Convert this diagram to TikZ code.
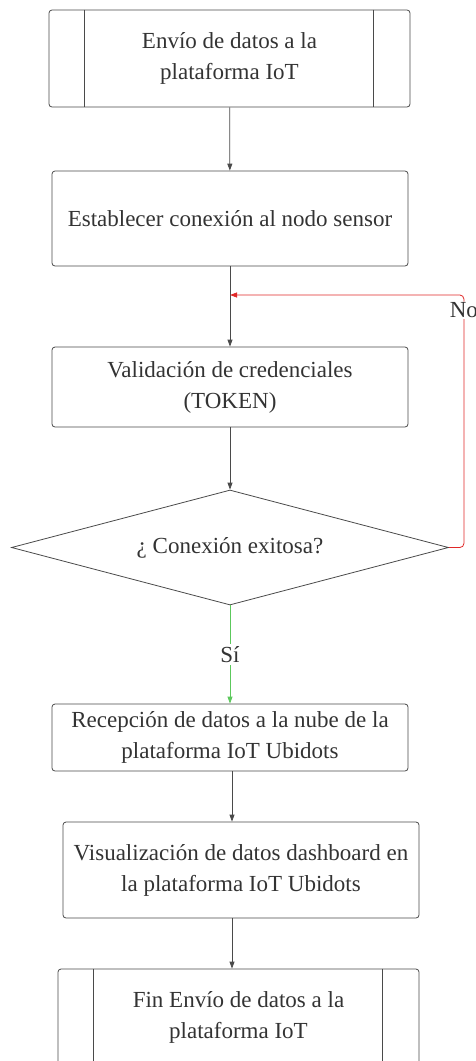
\documentclass[tikz,border=0pt]{standalone}
\usepackage{fontspec}
\setmainfont{Liberation Serif}
\usetikzlibrary{arrows.meta, shapes.geometric, positioning}
\definecolor{linea}{HTML}{4A4A4A}
\definecolor{texto}{HTML}{333333}
\definecolor{rojo}{HTML}{E02828}
\definecolor{verde}{HTML}{5CC85C}

\begin{document}
\begin{tikzpicture}[x=1pt,y=-1pt,>={Triangle[length=7pt,width=5pt]},
      every node/.style={font=\fontsize{23}{31}\selectfont, text=texto},
      caja/.style={draw=linea,line width=0.8pt,rounded corners=3pt,minimum width=356pt,align=center},
      % sub-proceso: caja con dos barras laterales
      subp/.style={caja,minimum width=361pt},
      decision/.style={diamond,aspect=3.8,draw=linea,line width=0.8pt,inner sep=0pt,minimum width=437pt,minimum height=115pt},
      flecha/.style={->,draw=linea,line width=0.8pt}]
      \useasboundingbox (0,0) rectangle (475,1061);
      \clip (0,0) rectangle (475,1061);
      \node[subp, minimum height=97pt]  (inicio) at (229.5,58.5) {Envío de datos a la\\plataforma IoT};
      \node[caja, minimum height=95pt]  (conex)  at (230,218.5) {Establecer conexión al nodo sensor};
      \node[caja, minimum height=80pt]  (valid)  at (230,387) {Validación de credenciales\\(TOKEN)};
      \node[decision]                   (decis)  at (230,547.5) {¿ Conexión exitosa?};
      \node[caja, minimum height=67pt]  (recep)  at (230,737.5) {Recepción de datos a la nube de la\\plataforma IoT Ubidots};
      \node[caja, minimum height=96pt]  (visual) at (241,870) {Visualización de datos dashboard en\\la plataforma IoT Ubidots};
      \node[subp, minimum height=96pt]  (fin)    at (238.5,1017) {Fin Envío de datos a la\\plataforma IoT};
      \foreach \n in {inicio, fin} {
        \draw[linea,line width=0.8pt] ([xshift=36pt]\n.north west) -- ([xshift=36pt]\n.south west);
        \draw[linea,line width=0.8pt] ([xshift=-37pt]\n.north east) -- ([xshift=-37pt]\n.south east);
      }
      \coordinate (ret) at (230,295);
      \coordinate (eje) at (232,0);
      \draw[flecha] (inicio) -- (conex);
      \draw[flecha] (conex) -- (valid);
      \draw[flecha] (valid) -- (decis);
      \draw[->,draw=rojo,line width=0.8pt,rounded corners=4pt] (decis.east) -- ++(15,0)
        |- node[pos=0.47,fill=white,inner sep=1pt] (no) {No} (ret);
      \draw[->,draw=verde,line width=0.8pt] (decis) -- node[fill=white,inner sep=2pt] (si) {Sí} (recep);
      \draw[flecha] (recep.south -| eje) -- (visual.north -| eje);
      \draw[flecha] (visual.south -| eje) -- (fin.north -| eje);
    \end{tikzpicture}
\end{document}
